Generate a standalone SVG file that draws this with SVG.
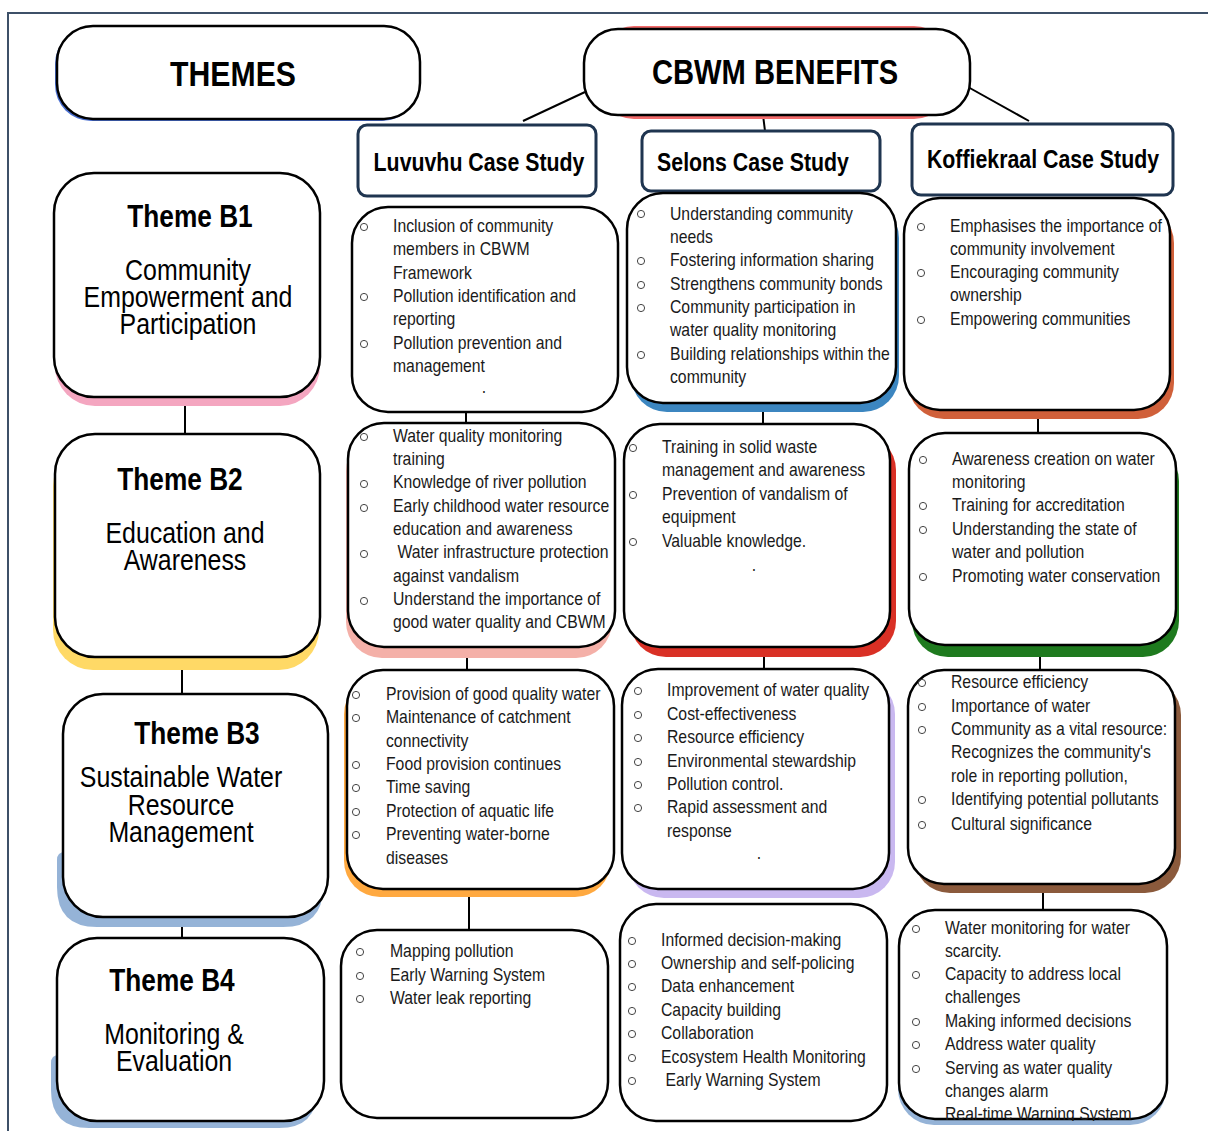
<svg xmlns="http://www.w3.org/2000/svg" width="1208" height="1131" viewBox="0 0 1208 1131">
  <style>
    .frame { fill: none; stroke: #3d5068; stroke-width: 2; }
    .box { fill: #fff; stroke: #000; stroke-width: 2.5; }
    .hdr { fill: #fff; stroke: #1f3550; stroke-width: 3; }
    .link { stroke: #000; stroke-width: 2; fill: none; }
    text { font-family: "Liberation Sans", Arial, sans-serif; }
    .big { font-weight: bold; font-size: 36px; fill: #000; text-anchor: middle; }
    .case { font-weight: bold; font-size: 26px; fill: #000; text-anchor: middle; }
    .ttl { font-weight: bold; font-size: 32px; fill: #000; text-anchor: middle; }
    .sub { font-size: 30px; fill: #000; text-anchor: middle; }
    .txt text { font-size: 19px; fill: #1a1a1a; }
    .dot { fill: none; stroke: #444; stroke-width: 1; }
  </style>
  <defs>
    <circle id="b" r="3.6" class="dot"/>
    <clipPath id="k4clip"><rect x="890" y="900" width="300" height="221"/></clipPath>
  </defs>

  <!-- page frame -->
  <rect class="frame" x="8" y="13" width="1220" height="1140"/>

  <!-- connectors -->
  <g id="connectors">
    <line class="link" x1="585" y1="92" x2="523" y2="121"/>
    <line class="link" x1="763" y1="115" x2="765" y2="131"/>
    <line class="link" x1="968" y1="87" x2="1029" y2="121"/>
    <line class="link" x1="185" y1="405" x2="185" y2="435"/>
    <line class="link" x1="182" y1="669" x2="182" y2="695"/>
    <line class="link" x1="182" y1="926" x2="182" y2="938"/>
    <line class="link" x1="466" y1="412" x2="466" y2="424"/>
    <line class="link" x1="467" y1="657" x2="467" y2="670"/>
    <line class="link" x1="469" y1="897" x2="469" y2="930"/>
    <line class="link" x1="763" y1="411" x2="763" y2="424"/>
    <line class="link" x1="764" y1="656" x2="764" y2="669"/>
    <line class="link" x1="1038" y1="418" x2="1038" y2="433"/>
    <line class="link" x1="1040" y1="656" x2="1040" y2="670"/>
    <line class="link" x1="1043" y1="892" x2="1043" y2="910"/>
  </g>

  <!-- headings -->
  <g id="themes-head">
    <rect x="55" y="28" width="363" height="93" rx="36" fill="#4a6fd0"/>
    <rect class="box" x="57" y="26" width="363" height="93" rx="36"/>
    <text class="big" transform="translate(233 86) scale(0.84 1)">THEMES</text>
  </g>
  <g id="benefits-head">
    <rect x="598" y="26" width="352" height="93" rx="36" fill="#f26b6b"/>
    <rect class="box" x="584" y="29" width="386" height="86" rx="34"/>
    <text class="big" transform="translate(775 84) scale(0.81 1)">CBWM BENEFITS</text>
  </g>
  <g id="luvuvhu-head">
    <rect class="hdr" x="358" y="125" width="238" height="71" rx="9"/>
    <text class="case" transform="translate(479 171) scale(0.82 1)">Luvuvhu Case Study</text>
  </g>
  <g id="selons-head">
    <rect class="hdr" x="642" y="131" width="238" height="60" rx="9"/>
    <text class="case" transform="translate(753 171) scale(0.82 1)">Selons Case Study</text>
  </g>
  <g id="koffiekraal-head">
    <rect class="hdr" x="912" y="124" width="261" height="71" rx="9"/>
    <text class="case" transform="translate(1043 168) scale(0.82 1)">Koffiekraal Case Study</text>
  </g>

  <!-- theme boxes -->
  <g id="theme-b1">
    <rect x="55" y="182" width="265" height="224" rx="40" fill="#f4a6c0"/>
    <rect class="box" x="54" y="173" width="266" height="224" rx="40"/>
    <text class="ttl" transform="translate(190 227) scale(0.82 1)">Theme B1</text>
    <text class="sub" transform="translate(188 280) scale(0.83 1)">Community</text>
    <text class="sub" transform="translate(188 307) scale(0.83 1)">Empowerment and</text>
    <text class="sub" transform="translate(188 334) scale(0.83 1)">Participation</text>
  </g>
  <g id="theme-b2">
    <rect x="53" y="446" width="266" height="224" rx="40" fill="#ffd966"/>
    <rect class="box" x="55" y="434" width="265" height="223" rx="40"/>
    <text class="ttl" transform="translate(180 490) scale(0.82 1)">Theme B2</text>
    <text class="sub" transform="translate(185 543) scale(0.83 1)">Education and</text>
    <text class="sub" transform="translate(185 570) scale(0.83 1)">Awareness</text>
  </g>
  <g id="theme-b3">
    <path d="M57 860 Q57 852 65 852 L323 852 L323 887 Q323 927 283 927 L97 927 Q57 927 57 887 Z" fill="#95b3d7"/>
    <rect class="box" x="63" y="694" width="265" height="223" rx="40"/>
    <text class="ttl" transform="translate(197 744) scale(0.82 1)">Theme B3</text>
    <text class="sub" transform="translate(181 787) scale(0.83 1)">Sustainable Water</text>
    <text class="sub" transform="translate(181 815) scale(0.83 1)">Resource</text>
    <text class="sub" transform="translate(181 842) scale(0.83 1)">Management</text>
  </g>
  <g id="theme-b4">
    <path d="M51 1063 Q51 1055 59 1055 L317 1055 L317 1090 Q317 1128 279 1128 L89 1128 Q51 1128 51 1090 Z" fill="#95b3d7"/>
    <rect class="box" x="57" y="938" width="267" height="183" rx="40"/>
    <text class="ttl" transform="translate(172 991) scale(0.82 1)">Theme B4</text>
    <text class="sub" transform="translate(174 1044) scale(0.83 1)">Monitoring &amp;</text>
    <text class="sub" transform="translate(174 1071) scale(0.83 1)">Evaluation</text>
  </g>

  <!-- Luvuvhu column -->
  <g id="luv-b1">
    <rect class="box" x="352" y="207" width="266" height="205" rx="36"/>
    <g class="txt" transform="translate(393 0) scale(0.83 1)">
      <text x="0" y="232">Inclusion of community</text>
      <text x="0" y="255">members in CBWM</text>
      <text x="0" y="279">Framework</text>
      <text x="0" y="302">Pollution identification and</text>
      <text x="0" y="325">reporting</text>
      <text x="0" y="349">Pollution prevention and</text>
      <text x="0" y="372">management</text>
      <text x="107" y="393">.</text>
    </g>
    <use href="#b" x="364" y="227"/><use href="#b" x="364" y="297"/><use href="#b" x="364" y="344"/>
  </g>
  <g id="luv-b2">
    <rect x="346" y="435" width="266" height="223" rx="36" fill="#f4b0a8"/>
    <rect class="box" x="348" y="423" width="267" height="224" rx="36"/>
    <g class="txt" transform="translate(393 0) scale(0.83 1)">
      <text x="0" y="442">Water quality monitoring</text>
      <text x="0" y="465">training</text>
      <text x="0" y="488">Knowledge of river pollution</text>
      <text x="0" y="512">Early childhood water resource</text>
      <text x="0" y="535">education and awareness</text>
      <text x="0" y="558" xml:space="preserve"> Water infrastructure protection</text>
      <text x="0" y="582">against vandalism</text>
      <text x="0" y="605">Understand the importance of</text>
      <text x="0" y="628">good water quality and CBWM</text>
    </g>
    <use href="#b" x="364" y="437"/><use href="#b" x="364" y="484"/><use href="#b" x="364" y="508"/><use href="#b" x="364" y="554"/><use href="#b" x="364" y="601"/>
  </g>
  <g id="luv-b3">
    <rect x="344" y="678" width="267" height="219" rx="36" fill="#ffa940"/>
    <rect class="box" x="347" y="670" width="267" height="219" rx="36"/>
    <g class="txt" transform="translate(386 0) scale(0.83 1)">
      <text x="0" y="700">Provision of good quality water</text>
      <text x="0" y="723">Maintenance of catchment</text>
      <text x="0" y="747">connectivity</text>
      <text x="0" y="770">Food provision continues</text>
      <text x="0" y="793">Time saving</text>
      <text x="0" y="817">Protection of aquatic life</text>
      <text x="0" y="840">Preventing water-borne</text>
      <text x="0" y="864">diseases</text>
    </g>
    <use href="#b" x="356" y="695"/><use href="#b" x="356" y="718"/><use href="#b" x="356" y="765"/><use href="#b" x="356" y="788"/><use href="#b" x="356" y="812"/><use href="#b" x="356" y="835"/>
  </g>
  <g id="luv-b4">
    <rect class="box" x="341" y="930" width="267" height="188" rx="36"/>
    <g class="txt" transform="translate(390 0) scale(0.83 1)">
      <text x="0" y="957">Mapping pollution</text>
      <text x="0" y="981">Early Warning System</text>
      <text x="0" y="1004">Water leak reporting</text>
    </g>
    <use href="#b" x="360" y="952"/><use href="#b" x="360" y="976"/><use href="#b" x="360" y="999"/>
  </g>

  <!-- Selons column -->
  <g id="sel-b1">
    <rect x="631" y="202" width="268" height="210" rx="36" fill="#3c86c0"/>
    <rect class="box" x="627" y="193" width="269" height="210" rx="36"/>
    <g class="txt" transform="translate(670 0) scale(0.83 1)">
      <text x="0" y="220">Understanding community</text>
      <text x="0" y="243">needs</text>
      <text x="0" y="266">Fostering information sharing</text>
      <text x="0" y="290">Strengthens community bonds</text>
      <text x="0" y="313">Community participation in</text>
      <text x="0" y="336">water quality monitoring</text>
      <text x="0" y="360">Building relationships within the</text>
      <text x="0" y="383">community</text>
    </g>
    <use href="#b" x="641" y="214"/><use href="#b" x="641" y="261"/><use href="#b" x="641" y="285"/><use href="#b" x="641" y="308"/><use href="#b" x="641" y="355"/>
  </g>
  <g id="sel-b2">
    <rect x="630" y="434" width="266" height="223" rx="36" fill="#d93025"/>
    <rect class="box" x="624" y="424" width="266" height="223" rx="36"/>
    <g class="txt" transform="translate(662 0) scale(0.83 1)">
      <text x="0" y="453">Training in solid waste</text>
      <text x="0" y="476">management and awareness</text>
      <text x="0" y="500">Prevention of vandalism of</text>
      <text x="0" y="523">equipment</text>
      <text x="0" y="547">Valuable knowledge.</text>
      <text x="108" y="571">.</text>
    </g>
    <use href="#b" x="633" y="448"/><use href="#b" x="633" y="495"/><use href="#b" x="633" y="542"/>
  </g>
  <g id="sel-b3">
    <rect x="628" y="678" width="267" height="220" rx="36" fill="#c9b8f0"/>
    <rect class="box" x="622" y="669" width="267" height="220" rx="36"/>
    <g class="txt" transform="translate(667 0) scale(0.83 1)">
      <text x="0" y="696">Improvement of water quality</text>
      <text x="0" y="720">Cost-effectiveness</text>
      <text x="0" y="743">Resource efficiency</text>
      <text x="0" y="767">Environmental stewardship</text>
      <text x="0" y="790">Pollution control.</text>
      <text x="0" y="813">Rapid assessment and</text>
      <text x="0" y="837">response</text>
      <text x="108" y="859">.</text>
    </g>
    <use href="#b" x="638" y="691"/><use href="#b" x="638" y="715"/><use href="#b" x="638" y="738"/><use href="#b" x="638" y="762"/><use href="#b" x="638" y="785"/><use href="#b" x="638" y="808"/>
  </g>
  <g id="sel-b4">
    <rect class="box" x="620" y="904" width="267" height="217" rx="36"/>
    <g class="txt" transform="translate(661 0) scale(0.83 1)">
      <text x="0" y="946">Informed decision-making</text>
      <text x="0" y="969">Ownership and self-policing</text>
      <text x="0" y="992">Data enhancement</text>
      <text x="0" y="1016">Capacity building</text>
      <text x="0" y="1039">Collaboration</text>
      <text x="0" y="1063">Ecosystem Health Monitoring</text>
      <text x="0" y="1086" xml:space="preserve"> Early Warning System</text>
    </g>
    <use href="#b" x="632" y="941"/><use href="#b" x="632" y="964"/><use href="#b" x="632" y="987"/><use href="#b" x="632" y="1011"/><use href="#b" x="632" y="1034"/><use href="#b" x="632" y="1058"/><use href="#b" x="632" y="1081"/>
  </g>

  <!-- Koffiekraal column -->
  <g id="kof-b1">
    <rect x="908" y="207" width="266" height="212" rx="36" fill="#d0603a"/>
    <rect class="box" x="904" y="198" width="266" height="212" rx="36"/>
    <g class="txt" transform="translate(950 0) scale(0.83 1)">
      <text x="0" y="232">Emphasises the importance of</text>
      <text x="0" y="255">community involvement</text>
      <text x="0" y="278">Encouraging community</text>
      <text x="0" y="301">ownership</text>
      <text x="0" y="325">Empowering communities</text>
    </g>
    <use href="#b" x="921" y="227"/><use href="#b" x="921" y="273"/><use href="#b" x="921" y="320"/>
  </g>
  <g id="kof-b2">
    <rect x="912" y="445" width="267" height="212" rx="36" fill="#1e7a1e"/>
    <rect class="box" x="909" y="433" width="267" height="212" rx="36"/>
    <g class="txt" transform="translate(952 0) scale(0.83 1)">
      <text x="0" y="465">Awareness creation on water</text>
      <text x="0" y="488">monitoring</text>
      <text x="0" y="511">Training for accreditation</text>
      <text x="0" y="535">Understanding the state of</text>
      <text x="0" y="558">water and pollution</text>
      <text x="0" y="582">Promoting water conservation</text>
    </g>
    <use href="#b" x="923" y="460"/><use href="#b" x="923" y="506"/><use href="#b" x="923" y="530"/><use href="#b" x="923" y="577"/>
  </g>
  <g id="kof-b3">
    <rect x="914" y="679" width="267" height="214" rx="36" fill="#8b5a3c"/>
    <rect class="box" x="908" y="670" width="267" height="214" rx="36"/>
    <g class="txt" transform="translate(951 0) scale(0.83 1)">
      <text x="0" y="688">Resource efficiency</text>
      <text x="0" y="712">Importance of water</text>
      <text x="0" y="735">Community as a vital resource:</text>
      <text x="0" y="758">Recognizes the community's</text>
      <text x="0" y="782">role in reporting pollution,</text>
      <text x="0" y="805">Identifying potential pollutants</text>
      <text x="0" y="830">Cultural significance</text>
    </g>
    <use href="#b" x="922" y="683"/><use href="#b" x="922" y="707"/><use href="#b" x="922" y="730"/><use href="#b" x="922" y="800"/><use href="#b" x="922" y="825"/>
  </g>
  <g id="kof-b4">
    <rect x="898" y="916" width="268" height="209" rx="36" fill="#95b3d7"/>
    <rect class="box" x="899" y="910" width="268" height="209" rx="36"/>
    <g class="txt" transform="translate(945 0) scale(0.83 1)">
      <text x="0" y="934">Water monitoring for water</text>
      <text x="0" y="957">scarcity.</text>
      <text x="0" y="980">Capacity to address local</text>
      <text x="0" y="1003">challenges</text>
      <text x="0" y="1027">Making informed decisions</text>
      <text x="0" y="1050">Address water quality</text>
      <text x="0" y="1074">Serving as water quality</text>
      <text x="0" y="1097">changes alarm</text>
    </g>
    <g class="txt" clip-path="url(#k4clip)">
      <text transform="translate(945 1120) scale(0.83 1)">Real-time Warning System</text>
    </g>
    <use href="#b" x="916" y="929"/><use href="#b" x="916" y="975"/><use href="#b" x="916" y="1022"/><use href="#b" x="916" y="1045"/><use href="#b" x="916" y="1069"/>
  </g>
</svg>
